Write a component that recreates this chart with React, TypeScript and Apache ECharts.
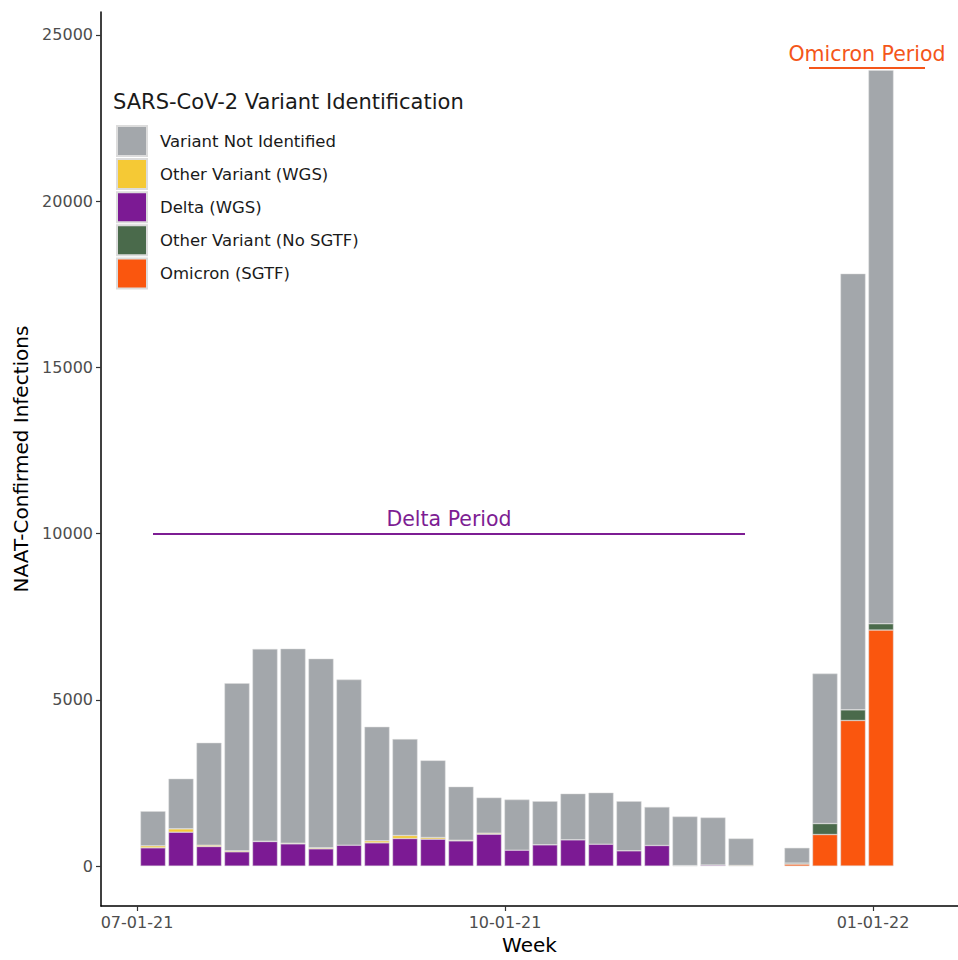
import React, { useEffect, useRef } from "react";
import * as echarts from "echarts";

// ---- data ----
const weeks = [
  "2021-07-05", "2021-07-12", "2021-07-19", "2021-07-26", "2021-08-02", "2021-08-09",
  "2021-08-16", "2021-08-23", "2021-08-30", "2021-09-06", "2021-09-13", "2021-09-20",
  "2021-09-27", "2021-10-04", "2021-10-11", "2021-10-18", "2021-10-25", "2021-11-01",
  "2021-11-08", "2021-11-15", "2021-11-22", "2021-11-29",
  "2021-12-13", "2021-12-20", "2021-12-27", "2022-01-03",
];
const variantNotIdentified = [
  1040, 1510, 3080, 5040, 5780, 5850, 5690, 4980, 3430, 2900, 2320, 1610, 1070,
  1520, 1310, 1390, 1550, 1490, 1160, 1475, 1430, 810,
  460, 4510, 13120, 16650,
];
const otherVariantWGS = [
  60, 100, 40, 30, 10, 20, 30, 0, 60, 90, 50, 20, 30,
  0, 0, 0, 0, 0, 0, 0, 0, 20,
  0, 0, 0, 0,
];
const deltaWGS = [
  550, 1020, 590, 430, 740, 670, 520, 630, 700, 830, 810, 760, 960,
  480, 640, 790, 660, 460, 620, 15, 30, 0,
  0, 0, 0, 0,
];
const otherVariantNoSGTF = [
  0, 0, 0, 0, 0, 0, 0, 0, 0, 0, 0, 0, 0,
  0, 0, 0, 0, 0, 0, 0, 0, 0,
  30, 330, 320, 190,
];
const omicronSGTF = [
  0, 0, 0, 0, 0, 0, 0, 0, 0, 0, 0, 0, 0,
  0, 0, 0, 0, 0, 0, 0, 0, 0,
  60, 950, 4380, 7100,
];
const yTicks = [0, 5000, 10000, 15000, 20000, 25000];
const xTickDates = ["2021-07-01", "2021-10-01", "2022-01-01"];
const xTickLabels = ["07-01-21", "10-01-21", "01-01-22"];
const deltaPeriod = ["2021-07-05", "2021-11-30"];
const deltaLevel = 10000;
const omicronPeriod = ["2021-12-16", "2022-01-14"];
const omicronLevel = 24000;

// ---- helpers ----
const DAY = 86400000;
const ts = (s: string) => {
  const [y, m, d] = s.split("-").map(Number);
  return Date.UTC(y, m - 1, d);
};
const ORIGIN = ts("2021-07-01");
const dayOf = (s: string) => (ts(s) - ORIGIN) / DAY;
const X_MIN_DAY = -9;
const X_MAX_DAY = 205.25;
const GRID_LEFT = 101;
const CHART_W = 958;
const BAR_W = 25;
const FONT = "DejaVu Sans";
const COLORS = {
  grey: "#A3A7AB",
  yellow: "#F5C935",
  purple: "#7C1A94",
  green: "#4A6A4B",
  orange: "#FA560E",
};

export default function App() {
  const ref = useRef<HTMLDivElement>(null);
  useEffect(() => {
    document.body.style.margin = "0";
    if (!ref.current) return;
    const chart = echarts.init(ref.current, null, { renderer: "svg" });
    const tickDays = xTickDates.map(dayOf);
    // ECharts widens a time axis carrying bars by half a bar on each side;
    // pre-shrink the requested extent so the final extent matches the label axis.
    const plotW = CHART_W - GRID_LEFT;
    const padDays = (BAR_W / 2) * (X_MAX_DAY - X_MIN_DAY) / plotW;
    const mk = (name: string, vals: number[], color: string, extra: any = {}) => ({
      name,
      type: "bar",
      stack: "total",
      xAxisIndex: 0,
      barWidth: BAR_W,
      itemStyle: { color, borderColor: "#dcdcdc", borderWidth: 0.5 },
      emphasis: { disabled: true },
      data: weeks.map((w, i) => [ts(w), vals[i] ? vals[i] : null]),
      ...extra,
    });
    const periodLine = (period: string[], level: number, text: string, color: string) => ({
      silent: true,
      symbol: ["none", "none"],
      lineStyle: { color, width: 2, type: "solid" },
      label: {
        show: true,
        position: "insideMiddleTop",
        formatter: text,
        color,
        fontSize: 20.5,
        fontFamily: FONT,
        distance: 4,
      },
      emphasis: { disabled: true },
      data: [[{ coord: [ts(period[0]), level] }, { coord: [ts(period[1]), level] }]],
    });
    chart.setOption({
      animation: false,
      textStyle: { fontFamily: FONT },
      title: {
        text: "SARS-CoV-2 Variant Identification",
        left: 113,
        top: 91,
        padding: 0,
        textStyle: { fontSize: 21, fontWeight: "normal", color: "#1a1a1a", fontFamily: FONT },
      },
      legend: {
        orient: "vertical",
        left: 116,
        top: 125,
        padding: 0,
        itemWidth: 30,
        itemHeight: 30,
        itemGap: 1.1,
        icon: "rect",
        selectedMode: false,
        data: [
          "Variant Not Identified",
          "Other Variant (WGS)",
          "Delta (WGS)",
          "Other Variant (No SGTF)",
          "Omicron (SGTF)",
        ],
        textStyle: { fontSize: 16.5, color: "#1a1a1a", fontFamily: FONT, padding: [0, 0, 0, 8] },
      },
      grid: { left: GRID_LEFT, right: 0, top: 12, bottom: 51 },
      xAxis: [
        {
          type: "time",
          position: "bottom",
          min: ORIGIN + (X_MIN_DAY + padDays) * DAY,
          max: ORIGIN + (X_MAX_DAY - padDays) * DAY,
          show: true,
          splitLine: { show: false },
          axisLine: { show: false },
          axisTick: { show: false },
          axisLabel: { show: false },
        },
        {
          type: "value",
          position: "bottom",
          min: X_MIN_DAY,
          max: X_MAX_DAY,
          name: "Week",
          nameLocation: "middle",
          nameGap: 29,
          nameTextStyle: { fontSize: 20, color: "#000", fontFamily: FONT },
          splitLine: { show: false },
          axisLine: { show: true, onZero: false, lineStyle: { color: "#000", width: 1.5 } },
          axisTick: { show: true, customValues: tickDays, length: 5, lineStyle: { color: "#333", width: 1.2 } },
          axisLabel: {
            customValues: tickDays,
            margin: 8,
            fontSize: 16,
            color: "#4d4d4d",
            fontFamily: FONT,
            formatter: (v: number) => {
              const i = tickDays.indexOf(Math.round(v));
              return i >= 0 ? xTickLabels[i] : "";
            },
          },
        },
      ],
      yAxis: {
        type: "value",
        min: -1200,
        max: 25690,
        name: "NAAT-Confirmed Infections",
        nameLocation: "middle",
        nameGap: 62,
        nameTextStyle: { fontSize: 20, color: "#000", fontFamily: FONT },
        splitLine: { show: false },
        axisLine: { show: true, onZero: false, lineStyle: { color: "#000", width: 1.5 } },
        axisTick: { show: true, customValues: yTicks, length: 5, lineStyle: { color: "#333", width: 1.2 } },
        axisLabel: {
          customValues: yTicks,
          margin: 8,
          fontSize: 16,
          color: "#4d4d4d",
          fontFamily: FONT,
          formatter: (v: number) => String(v),
        },
      },
      series: [
        mk("Delta (WGS)", deltaWGS, COLORS.purple, {
          markLine: periodLine(deltaPeriod, deltaLevel, "Delta Period", "#7D1D93"),
        }),
        mk("Omicron (SGTF)", omicronSGTF, COLORS.orange, {
          markLine: periodLine(omicronPeriod, omicronLevel, "Omicron Period", "#F4561A"),
        }),
        mk("Other Variant (WGS)", otherVariantWGS, COLORS.yellow),
        mk("Other Variant (No SGTF)", otherVariantNoSGTF, COLORS.green),
        mk("Variant Not Identified", variantNotIdentified, COLORS.grey),
      ],
    });
    return () => chart.dispose();
  }, []);
  return <div ref={ref} style={{ width: 958, height: 960 }} />;
}
